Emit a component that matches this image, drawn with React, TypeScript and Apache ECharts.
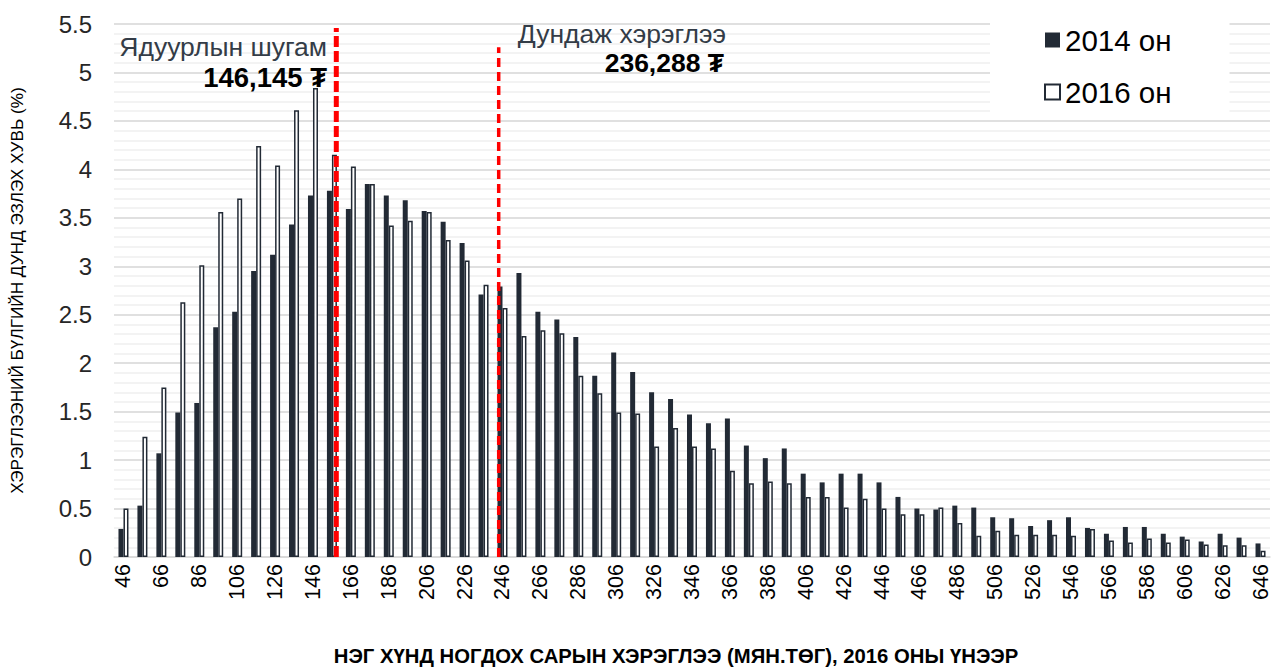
import React, { useEffect, useRef } from "react";
import * as echarts from "echarts";

const categories = [
  "46", "56", "66", "76", "86", "96", "106", "116", "126", "136",
  "146", "156", "166", "176", "186", "196", "206", "216", "226", "236",
  "246", "256", "266", "276", "286", "296", "306", "316", "326", "336",
  "346", "356", "366", "376", "386", "396", "406", "416", "426", "436",
  "446", "456", "466", "476", "486", "496", "506", "516", "526", "536",
  "546", "556", "566", "576", "586", "596", "606", "616", "626", "636",
  "646",
];

const values2014 = [
  0.29, 0.53, 1.07, 1.49, 1.59, 2.37, 2.53, 2.95, 3.12, 3.43,
  3.73, 3.78, 3.59, 3.85, 3.73, 3.68, 3.57, 3.46, 3.24, 2.71,
  2.79, 2.93, 2.53, 2.45, 2.27, 1.87, 2.11, 1.91, 1.70, 1.63,
  1.47, 1.38, 1.43, 1.15, 1.02, 1.12, 0.86, 0.77, 0.86, 0.86,
  0.77, 0.62, 0.50, 0.49, 0.53, 0.51, 0.41, 0.40, 0.32, 0.38,
  0.41, 0.30, 0.24, 0.31, 0.31, 0.24, 0.21, 0.16, 0.24, 0.20,
  0.14,
];

const values2016 = [
  0.50, 1.24, 1.75, 2.63, 3.01, 3.56, 3.70, 4.24, 4.04, 4.61,
  4.84, 4.15, 4.03, 3.85, 3.42, 3.47, 3.56, 3.27, 3.06, 2.81,
  2.57, 2.28, 2.34, 2.31, 1.87, 1.69, 1.49, 1.48, 1.14, 1.33,
  1.14, 1.12, 0.89, 0.76, 0.78, 0.76, 0.62, 0.62, 0.51, 0.60,
  0.50, 0.44, 0.44, 0.51, 0.35, 0.22, 0.27, 0.23, 0.23, 0.23,
  0.22, 0.29, 0.17, 0.15, 0.19, 0.15, 0.18, 0.13, 0.12, 0.12,
  0.065,
];

const seriesNames = ["2014 он", "2016 он"];
const yTicks = { min: 0, max: 5.5, interval: 0.5 };

// reference lines (positions along the category scale, top value on y)
const povertyLine = { x: 158.3, top: 5.46 };
const meanLine = { x: 244.0, top: 5.26 };

const povertyTitle = "Ядуурлын шугам";
const povertyValue = "146,145 ₮";
const meanTitle = "Дундаж хэрэглээ";
const meanValue = "236,288 ₮";
const yAxisTitle = "ХЭРЭГЛЭЭНИЙ БҮЛГИЙН ДУНД ЭЗЛЭХ ХУВЬ (%)";
const xAxisTitle = "НЭГ ХҮНД НОГДОХ САРЫН ХЭРЭГЛЭЭ (МЯН.ТӨГ), 2016 ОНЫ ҮНЭЭР";

const DARK = "#222a35";
const FONT = "'Liberation Sans', Arial, sans-serif";

export default function App() {
  const ref = useRef<HTMLDivElement>(null);

  useEffect(() => {
    if (!ref.current) return;
    const chart = echarts.init(ref.current, undefined, { renderer: "svg" });
    const option: any = {
      animation: false,
      backgroundColor: "#fff",
      textStyle: { fontFamily: FONT },
      grid: { left: 110, right: 2, top: 24, bottom: 112 },
      legend: {
        orient: "vertical",
        left: 990,
        top: 0,
        padding: [25, 58, 8, 54],
        backgroundColor: "#fff",
        itemWidth: 15,
        itemHeight: 15,
        itemGap: 22,
        icon: "rect",
        data: seriesNames,
        textStyle: { fontSize: 29.5, color: "#000", fontFamily: FONT },
      },
      xAxis: [
        {
          type: "category",
          data: categories,
          axisLine: { lineStyle: { color: "#d9d9d9", width: 1.5 } },
          axisTick: { show: false },
          axisLabel: {
            interval: 1,
            rotate: 90,
            fontSize: 21.5,
            color: "#000",
            margin: 7,
            fontFamily: FONT,
          },
        },
        { type: "value", min: 41, max: 651, show: false },
      ],
      yAxis: {
        type: "value",
        min: yTicks.min,
        max: yTicks.max,
        interval: yTicks.interval,
        axisLine: { show: false },
        axisTick: { show: false },
        axisLabel: { fontSize: 24, color: "#262626", margin: 22, fontFamily: FONT },
        splitLine: { lineStyle: { color: "#d6d6d6", width: 1.5 } },
        minorTick: { show: false, splitNumber: 5 },
        minorSplitLine: { show: true, lineStyle: { color: "#efefef", width: 1.5 } },
        name: yAxisTitle,
        nameLocation: "middle",
        nameRotate: 90,
        nameGap: 89,
        nameTextStyle: { fontSize: 17.2, color: "#000", fontFamily: FONT },
      },
      series: [
        {
          name: seriesNames[0],
          type: "bar",
          data: values2014,
          barWidth: 5,
          barGap: "0%",
          itemStyle: { color: DARK },
        },
        {
          name: seriesNames[1],
          type: "bar",
          data: values2016,
          barWidth: 5,
          barGap: "0%",
          itemStyle: { color: "#fff", borderColor: DARK, borderWidth: 1.5 },
        },
        {
          name: "poverty",
          type: "line",
          xAxisIndex: 1,
          data: [
            [povertyLine.x, 0],
            [povertyLine.x, povertyLine.top],
          ],
          symbol: "none",
          z: 10,
          lineStyle: { color: "#ff0000", width: 5, type: [11, 4] },
        },
        {
          name: "mean",
          type: "line",
          xAxisIndex: 1,
          data: [
            [meanLine.x, 0],
            [meanLine.x, meanLine.top],
          ],
          symbol: "none",
          z: 10,
          lineStyle: { color: "#ff0000", width: 3.5, type: [9, 5] },
        },
      ],
      graphic: [
        {
          type: "text",
          x: 327,
          y: 47,
          z: 20,
          style: {
            text: povertyTitle,
            fill: "#333c47",
            fontSize: 26.5,
            fontFamily: FONT,
            align: "right",
            verticalAlign: "middle",
          },
        },
        {
          type: "text",
          x: 327,
          y: 77,
          z: 20,
          style: {
            text: povertyValue,
            fill: "#000",
            fontSize: 27.5,
            fontWeight: "bold",
            fontFamily: FONT,
            align: "right",
            verticalAlign: "middle",
          },
        },
        {
          type: "text",
          x: 726,
          y: 34,
          z: 20,
          style: {
            text: meanTitle,
            fill: "#333c47",
            fontSize: 26.5,
            fontFamily: FONT,
            align: "right",
            verticalAlign: "middle",
          },
        },
        {
          type: "text",
          x: 724,
          y: 63,
          z: 20,
          style: {
            text: meanValue,
            fill: "#000",
            fontSize: 26.5,
            fontWeight: "bold",
            fontFamily: FONT,
            align: "right",
            verticalAlign: "middle",
          },
        },
        {
          type: "text",
          x: 676,
          y: 656,
          z: 20,
          style: {
            text: xAxisTitle,
            fill: "#000",
            fontSize: 20.3,
            fontWeight: "bold",
            fontFamily: FONT,
            align: "center",
            verticalAlign: "middle",
          },
        },
      ],
    };
    chart.setOption(option);
    return () => chart.dispose();
  }, []);

  return (
    <div
      ref={ref}
      style={{ position: "fixed", left: 0, top: 0, width: 1272, height: 669 }}
    />
  );
}
